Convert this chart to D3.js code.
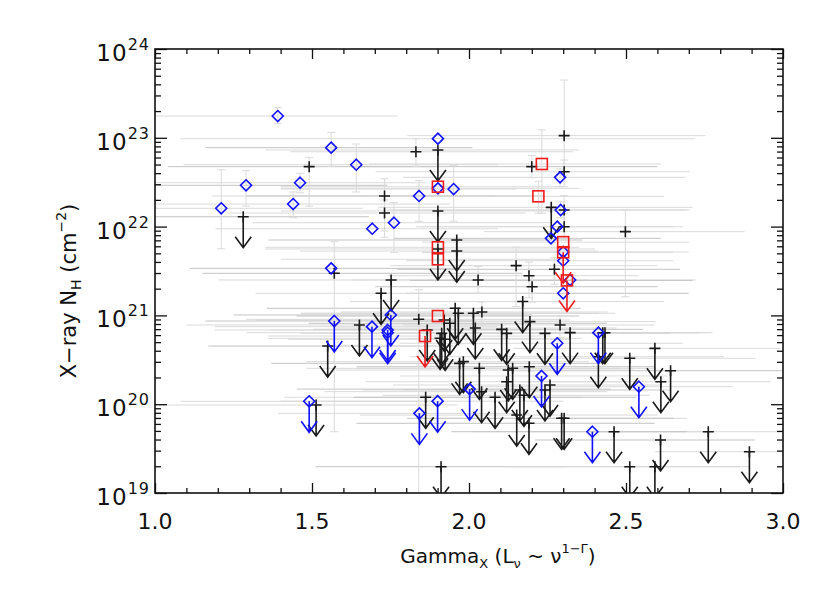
<!DOCTYPE html>
<html><head><meta charset="utf-8">
<script src="https://cdn.jsdelivr.net/npm/d3@7/dist/d3.min.js"></script>
<style>body{margin:0;background:#fff}svg{display:block}</style>
</head><body>
<script>
// ---- DATA (Gamma, log10 NH, Gamma err-, Gamma err+, [log10 NH low, log10 NH high]) ----
const blackDetections = [
  [1.491,22.675,0.45,0.40,22.23,22.78],[1.731,22.345,0.55,0.35,21.88,22.54],[1.731,22.153,0.50,0.45,21.95,22.30],
  [1.831,22.843,0.40,0.50,22.68,22.99],[1.571,21.474,0.42,0.60,19.69,21.83],[1.840,20.956,0.55,0.45,19.0,21.29],
  [2.029,21.399,0.40,0.35,21.25,21.55],[2.303,23.024,0.50,0.45,22.58,23.65],[2.200,22.675,0.55,0.40,22.55,22.80],
  [2.303,22.618,0.60,0.40,22.45,22.75],[2.303,22.187,0.55,0.40,22.0,22.35],[2.303,21.999,0.45,0.35,21.85,22.15],
  [2.272,21.519,0.50,0.40,21.35,21.65],[2.498,21.943,0.45,0.38,21.21,22.19],[2.150,21.560,0.40,0.45,21.10,21.77],
  [2.191,21.447,0.45,0.35,21.20,21.60],[2.201,21.323,0.50,0.40,21.15,21.45],[2.041,21.038,0.45,0.40,20.90,21.15],
  [2.290,20.892,0.50,0.30,20.75,21.0]
];
const blackLimits = [
  [1.281,22.111,0.45,0.40],[1.901,22.863,0.55,0.45],[1.901,22.176,0.50,0.40],[1.901,21.748,0.55,0.50],
  [1.961,21.849,0.60,0.40],[1.961,21.725,0.50,0.45],[1.752,21.399,0.55,0.40],[1.720,21.249,0.40,0.50],
  [1.550,20.655,0.38,0.40],[1.651,20.892,0.55,0.45],[1.867,20.836,0.50,0.45],[1.921,20.948,0.60,0.40],
  [1.939,20.911,0.45,0.50],[1.908,20.742,0.55,0.45],[1.924,20.731,0.50,0.40],[1.913,20.798,0.45,0.45],
  [1.956,21.080,0.60,0.40],[1.966,21.024,0.50,0.50],[2.014,21.024,0.55,0.40],[2.020,20.858,0.45,0.45],
  [1.970,20.460,0.60,0.45],[1.982,20.479,0.50,0.40],[1.513,19.991,0.50,0.45],[1.862,20.078,0.45,0.50],
  [1.911,19.296,0.40,0.40],[2.194,20.930,0.50,0.40],[2.171,21.156,0.55,0.45],[2.322,20.806,0.45,0.35],
  [2.104,20.843,0.60,0.45],[2.120,20.798,0.50,0.40],[2.242,20.798,0.55,0.40],[2.426,20.805,0.50,0.35],
  [2.433,20.805,0.45,0.30],[2.412,20.535,0.60,0.40],[2.512,20.517,0.50,0.40],[2.592,20.629,0.45,0.40],
  [2.642,20.377,0.50,0.42],[2.611,20.253,0.45,0.35],[2.033,20.404,0.55,0.45],[2.040,20.141,0.50,0.40],
  [2.083,20.078,0.45,0.45],[2.125,20.385,0.55,0.40],[2.139,20.404,0.50,0.45],[2.120,20.253,0.45,0.40],
  [2.192,20.422,0.55,0.40],[2.162,20.160,0.50,0.45],[2.175,20.100,0.45,0.40],[2.152,19.878,0.50,0.45],
  [2.191,19.785,0.55,0.40],[2.242,20.160,0.45,0.40],[2.258,20.216,0.50,0.35],[2.295,19.841,0.45,0.40],
  [2.303,19.841,0.50,0.35],[2.462,19.690,0.45,0.30],[2.512,19.296,0.40,0.35],[2.592,19.296,0.45,0.30],
  [2.610,19.597,0.40,0.30],[2.762,19.690,0.35,0.25],[2.893,19.465,0.30,0.20],[2.262,22.217,0.55,0.45]
];
const blueDetections = [
  [1.211,22.206,0.30,0.45,21.75,22.64],[1.290,22.465,0.40,0.45,22.23,22.63],[1.391,23.245,0.45,0.38,23.16,23.34],
  [1.462,22.494,0.50,0.40,22.38,22.60],[1.440,22.254,0.45,0.50,22.10,22.39],[1.561,22.889,0.40,0.45,22.68,23.06],
  [1.641,22.697,0.55,0.45,22.39,22.93],[1.692,21.976,0.50,0.40,null,null],[1.761,22.044,0.45,0.50,21.71,22.27],
  [1.841,22.345,0.55,0.40,22.06,22.52],[1.901,22.990,0.82,0.82,null,null],[1.901,22.431,0.50,0.45,null,null],
  [1.951,22.423,0.55,0.20,22.06,22.69],[1.561,21.530,0.45,0.40,null,null],[2.290,22.555,0.50,0.40,22.45,22.65],
  [2.292,22.187,0.55,0.40,22.10,22.28],[2.281,21.999,0.45,0.40,null,null],[2.261,21.868,0.50,0.35,null,null],
  [2.300,21.714,0.45,0.40,null,null],[2.300,21.616,0.50,0.35,null,null],[2.322,21.399,0.45,0.40,null,null],
  [2.300,21.249,0.50,0.40,null,null]
];
const blueLimits = [
  [1.571,20.937,0.41,0.45],[1.691,20.873,0.50,0.40],[1.741,20.836,0.55,0.45],[1.741,20.805,0.45,0.40],
  [1.751,21.005,0.50,0.45],[1.491,20.033,0.41,0.40],[1.842,19.897,0.45,0.35],[1.900,20.034,0.50,0.40],
  [2.002,20.170,0.55,0.45],[2.281,20.686,0.50,0.40],[2.231,20.318,0.45,0.40],[2.412,20.806,0.50,0.35],
  [2.393,19.690,0.45,0.30],[2.541,20.197,0.50,0.30]
];
const redDetections = [
  [1.901,22.449,0.50,0.40,null,null],[1.901,21.767,0.55,0.45,null,null],[1.901,21.632,0.50,0.40,null,null],
  [1.901,20.993,0.45,0.45,null,null],[2.232,22.705,0.55,0.38,22.15,23.09],[2.221,22.341,0.50,0.40,22.15,22.51],
  [2.300,21.825,0.45,0.40,null,null]
];
const redLimits = [[1.860,20.768,0.50,0.40],[2.300,21.711,0.45,0.35],[2.312,21.394,0.50,0.40]];
const xTickLabels = ["1.0","1.5","2.0","2.5","3.0"];
const xMajorTicks = [1.0,1.5,2.0,2.5,3.0];
const yExponents = [19,20,21,22,23,24];

// ---- LAYOUT ----
const W=830,H=593, L=155,R=783,T=49,B=493;
const svg=d3.select("body").append("svg").attr("width",W).attr("height",H);
const x=d3.scaleLinear().domain([1,3]).range([L,R]);
const y=d3.scaleLog().domain([1e19,1e24]).range([B,T]);
const P=v=>Math.pow(10,v);
const FONT="DejaVu Sans";

svg.append("defs").append("clipPath").attr("id","clip").append("rect")
  .attr("x",L).attr("y",T).attr("width",R-L).attr("height",B-T);
const plot=svg.append("g").attr("clip-path","url(#clip)");
const GRAY="#dadada";

const allDet=[...blackDetections,...blueDetections,...redDetections];
const allLim=[...blackLimits,...blueLimits,...redLimits];
// horizontal Gamma error bars
plot.selectAll("line.hx").data([...allDet,...allLim]).join("line").attr("class","hx")
  .attr("x1",d=>x(d[0]-d[2])).attr("x2",d=>x(d[0]+d[3]))
  .attr("y1",d=>y(P(d[1]))).attr("y2",d=>y(P(d[1])))
  .attr("stroke",(d,i)=>i%4===0?"#c4c4c4":GRAY).attr("stroke-width",1);
// vertical NH error bars
const vErr=allDet.filter(d=>d[4]!=null);
plot.selectAll("line.vy").data(vErr).join("line").attr("class","vy")
  .attr("x1",d=>x(d[0])).attr("x2",d=>x(d[0]))
  .attr("y1",d=>y(P(d[4]))).attr("y2",d=>y(P(d[5])))
  .attr("stroke",GRAY).attr("stroke-width",1);
[4,5].forEach(k=>{
  plot.selectAll("line.cap"+k).data(vErr).join("line").attr("class","cap"+k)
    .attr("x1",d=>x(d[0])-4).attr("x2",d=>x(d[0])+4)
    .attr("y1",d=>y(P(d[k]))).attr("y2",d=>y(P(d[k])))
    .attr("stroke",GRAY).attr("stroke-width",1);
});

const ARROW=31;
function arrows(g,data,color){
  g.selectAll(null).data(data).join("path")
    .attr("d",d=>{const px=x(d[0]),py=y(P(d[1])),ty=py+ARROW;
      return `M${px},${py}L${px},${ty}M${px-8},${ty-11}L${px},${ty}L${px+8},${ty-11}`;})
    .attr("fill","none").attr("stroke",color).attr("stroke-width",1.6);
}
function pluses(g,data,color){
  g.selectAll(null).data(data).join("path")
    .attr("d",d=>{const px=x(d[0]),py=y(P(d[1]));
      return `M${px-5.5},${py}L${px+5.5},${py}M${px},${py-5.5}L${px},${py+5.5}`;})
    .attr("fill","none").attr("stroke",color).attr("stroke-width",1.6);
}
function diamonds(g,data,color){
  g.selectAll(null).data(data).join("path")
    .attr("d",d=>{const px=x(d[0]),py=y(P(d[1])),s=5.5;
      return `M${px},${py-s}L${px+s},${py}L${px},${py+s}L${px-s},${py}Z`;})
    .attr("fill","none").attr("stroke",color).attr("stroke-width",1.6);
}
function squares(g,data,color){
  g.selectAll(null).data(data).join("rect")
    .attr("x",d=>x(d[0])-5.5).attr("y",d=>y(P(d[1]))-5.5).attr("width",11).attr("height",11)
    .attr("fill","none").attr("stroke",color).attr("stroke-width",1.6);
}
const BLK="#1a1a1a",BLU="#1010ff",RED="#f01c1c";
const gB=plot.append("g"); pluses(gB,blackDetections,BLK); pluses(gB,blackLimits,BLK); arrows(gB,blackLimits,BLK);
const gU=plot.append("g"); diamonds(gU,blueDetections,BLU); diamonds(gU,blueLimits,BLU); arrows(gU,blueLimits,BLU);
const gR=plot.append("g"); squares(gR,redDetections,RED); squares(gR,redLimits,RED); arrows(gR,redLimits,RED);

// ---- AXES ----
const xMinor=d3.range(10,31).map(v=>v/10).filter(v=>!xMajorTicks.some(m=>Math.abs(m-v)<1e-9));
const yMinor=[];
yExponents.slice(0,-1).forEach(e=>{for(let k=2;k<=9;k++) yMinor.push(k*P(e));});
const yMajor=yExponents.map(P);
function noDomain(g){g.select(".domain").remove();g.selectAll("text").remove();g.selectAll("line").attr("stroke","#111").attr("stroke-width",1.3);}
svg.append("g").attr("transform",`translate(0,${B})`).call(d3.axisBottom(x).tickValues(xMajorTicks).tickSize(-10)).call(noDomain);
svg.append("g").attr("transform",`translate(0,${B})`).call(d3.axisBottom(x).tickValues(xMinor).tickSize(-5)).call(noDomain);
svg.append("g").attr("transform",`translate(0,${T})`).call(d3.axisTop(x).tickValues(xMajorTicks).tickSize(-10)).call(noDomain);
svg.append("g").attr("transform",`translate(0,${T})`).call(d3.axisTop(x).tickValues(xMinor).tickSize(-5)).call(noDomain);
svg.append("g").attr("transform",`translate(${L},0)`).call(d3.axisLeft(y).tickValues(yMajor).tickSize(-12)).call(noDomain);
svg.append("g").attr("transform",`translate(${L},0)`).call(d3.axisLeft(y).tickValues(yMinor).tickSize(-6)).call(noDomain);
svg.append("g").attr("transform",`translate(${R},0)`).call(d3.axisRight(y).tickValues(yMajor).tickSize(-12)).call(noDomain);
svg.append("g").attr("transform",`translate(${R},0)`).call(d3.axisRight(y).tickValues(yMinor).tickSize(-6)).call(noDomain);
svg.append("rect").attr("x",L).attr("y",T).attr("width",R-L).attr("height",B-T)
  .attr("fill","none").attr("stroke","#111").attr("stroke-width",1.6);

// tick labels
svg.selectAll("text.xl").data(xMajorTicks).join("text").attr("class","xl")
  .attr("x",d=>x(d)).attr("y",B+36).attr("text-anchor","middle")
  .attr("font-family",FONT).attr("font-size",22).attr("fill","#111")
  .text((d,i)=>xTickLabels[i]);
const yl=svg.selectAll("text.yl").data(yExponents).join("text").attr("class","yl")
  .attr("x",L-5).attr("y",d=>y(P(d))+12).attr("text-anchor","end")
  .attr("font-family",FONT).attr("font-size",23).attr("fill","#111").attr("letter-spacing",1);
yl.append("tspan").text("10");
yl.append("tspan").attr("dy",-11).attr("font-size",16).text(d=>d);

// axis titles
const xt=svg.append("text").attr("x",498).attr("y",563).attr("text-anchor","middle")
  .attr("font-family",FONT).attr("font-size",20).attr("fill","#111");
xt.append("tspan").text("Gamma");
xt.append("tspan").attr("font-size",13).attr("dy",5).text("X");
xt.append("tspan").attr("dy",-5).text(" (L");
xt.append("tspan").attr("font-size",13).attr("dy",5).text("ν");
xt.append("tspan").attr("dy",-5).text(" ~ ν");
xt.append("tspan").attr("font-size",13).attr("dy",-10).text("1−Γ");
xt.append("tspan").attr("dy",10).text(")");

const yt=svg.append("text").attr("transform",`translate(76,${(T+B)/2+20}) rotate(-90)`).attr("text-anchor","middle")
  .attr("font-family",FONT).attr("font-size",21).attr("fill","#111");
yt.append("tspan").text("X−ray  N");
yt.append("tspan").attr("font-size",14).attr("dy",5).text("H");
yt.append("tspan").attr("dy",-5).text("  (cm");
yt.append("tspan").attr("font-size",14).attr("dy",-10).text("−2");
yt.append("tspan").attr("dy",10).text(")");
</script>
</body></html>
